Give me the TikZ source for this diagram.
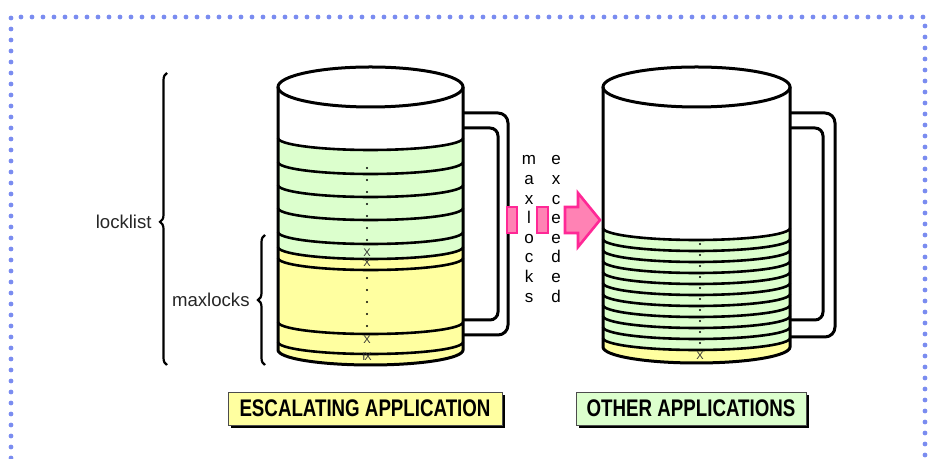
\documentclass[tikz,border=0pt]{standalone}
\usepackage{fontspec}
\setmainfont{Liberation Sans}
\newfontfamily\narrowsans[FakeStretch=0.78]{Liberation Sans}
\usetikzlibrary{decorations.pathreplacing,shadows}
\definecolor{lockgreen}{RGB}{220,255,205}
\definecolor{lockyellow}{RGB}{255,255,160}
\definecolor{framedot}{RGB}{122,140,240}
\definecolor{arrowpink}{RGB}{255,130,180}
\definecolor{arrowedge}{RGB}{255,40,150}

\begin{document}
\begin{tikzpicture}[x=1pt, y=1pt, scale=0.5,
  mugline/.style={line width=1.5pt},
  ringline/.style={line width=1.3pt},
  lockdots/.style={line width=1.1pt, line cap=round, dash pattern=on 0pt off 6pt},
  lockx/.style={inner sep=0pt, font=\fontsize{5.5}{6}\selectfont, text=black!80},
  sidelabel/.style={anchor=east, inner sep=0pt, font=\fontsize{9.3}{10}\selectfont, text=black!85},
  vletter/.style={anchor=base, inner sep=0pt, font=\fontsize{8.5}{9}\selectfont},
  curly/.style={line width=1.1pt, decorate, decoration={brace, amplitude=3.5pt}},
  appbox/.style={draw=black!70, line width=0.4pt, minimum height=16.5pt, inner sep=0pt,
    font=\narrowsans\bfseries\fontsize{12}{12}\selectfont,
    drop shadow={shadow xshift=1.3pt, shadow yshift=-1.3pt, opacity=1, fill=black}},
  arrowpiece/.style={fill=arrowpink, draw=arrowedge, line width=1.3pt, line join=miter}
]
\useasboundingbox (0,0) rectangle (929,459);
\clip (0,0) rectangle (929,459);

% dotted frame
\draw [framedot, line width=2.4pt, line cap=round, dash pattern=on 0pt off 5.5pt]
  (11,-10) -- (11,442) -- (925,442) -- (925,-10);

% left mug: handle
\draw [mugline, rounded corners=5pt] (463,346) -- (508,346) -- (508,124) -- (463,124);
\draw [mugline, rounded corners=4pt] (463,331) -- (498,331) -- (498,139) -- (463,139);
% left mug: filling
\fill [lockgreen] (278,321) arc [start angle=180, end angle=360, x radius=92.5, y radius=12]
  -- (463,212) arc [start angle=0, end angle=-180, x radius=92.5, y radius=12] -- cycle;
\fill [lockyellow] (278,212) arc [start angle=180, end angle=360, x radius=92.5, y radius=12]
  -- (463,109) arc [start angle=0, end angle=-180, x radius=92.5, y radius=15] -- cycle;
\foreach \y in {321,297,274,251,227,212,201,137,117}
  \draw [ringline] (278,\y) arc [start angle=180, end angle=360, x radius=92.5, y radius=12];
\draw [lockdots] (367,291) -- (367,216);
\draw [lockdots] (367,181) -- (367,132);
\node [lockx] (lx1) at (367,206) {X};
\node [lockx] (lx2) at (367,196) {X};
\node [lockx] (lx3) at (367,119) {X};
\node [lockx] (lx4) at (367,102) {I\kern-0.6pt X};
% left mug: body
\draw [mugline] (278,372) -- (278,109) arc [start angle=180, end angle=360, x radius=92.5, y radius=15] -- (463,372);
\draw [mugline] (370.5,372) ellipse [x radius=92.5, y radius=20];

% right mug: handle
\draw [mugline, rounded corners=5pt] (790,346) -- (835,346) -- (835,122) -- (790,122);
\draw [mugline, rounded corners=4pt] (790,331) -- (823,331) -- (823,139) -- (790,139);
% right mug: filling
\fill [lockgreen] (603,231) arc [start angle=180, end angle=360, x radius=93.5, y radius=12]
  -- (790,121) arc [start angle=0, end angle=-180, x radius=93.5, y radius=12] -- cycle;
\fill [lockyellow] (603,121) arc [start angle=180, end angle=360, x radius=93.5, y radius=12]
  -- (790,112) arc [start angle=0, end angle=-180, x radius=93.5, y radius=16] -- cycle;
\foreach \y in {231,220,...,121}
  \draw [ringline] (603,\y) arc [start angle=180, end angle=360, x radius=93.5, y radius=12];
\draw [lockdots, dash pattern=on 0pt off 5.5pt] (700,215) -- (700,114);
\node [lockx] (rx1) at (700,103) {X};
% right mug: body
\draw [mugline] (603,372) -- (603,112) arc [start angle=180, end angle=360, x radius=93.5, y radius=16] -- (790,372);
\draw [mugline] (696.5,372) ellipse [x radius=93.5, y radius=20];

% escalation arrow
\draw [arrowpiece] (507,226) rectangle (517,252);
\draw [arrowpiece] (537,226) rectangle (548,252);
\draw [arrowpiece] (565,252) -- (578,252) -- (578,266) -- (600,239)
  -- (578,212) -- (578,226) -- (565,226) -- cycle;
\foreach \ch [count=\i] in {m,a,x,l,o,c,k,s}
  \node [vletter] (ml\i) at (529,{294-19.6*(\i-1)}) {\ch};
\foreach \ch [count=\i] in {e,x,c,e,e,d,e,d}
  \node [vletter] (ex\i) at (556,{294-19.6*(\i-1)}) {\ch};

% braces
\coordinate (listlow) at (167,94);
\coordinate (listhigh) at (167,386);
\coordinate (maxlow) at (265,94);
\coordinate (maxhigh) at (265,224);
\draw [curly, decoration={aspect=0.49}] (listlow) -- (listhigh);
\draw [curly] (maxlow) -- (maxhigh);
\node [sidelabel] (locklist) at (152,237) {locklist};
\node [sidelabel] (maxlocks) at (250,159) {maxlocks};

% application labels
\node [appbox, fill=lockyellow, minimum width=137pt] (esc) at (365,50.5) {ESCALATING APPLICATION};
\node [appbox, fill=lockgreen, minimum width=115pt] (other) at (691,50.5) {OTHER APPLICATIONS};
\end{tikzpicture}
\end{document}
